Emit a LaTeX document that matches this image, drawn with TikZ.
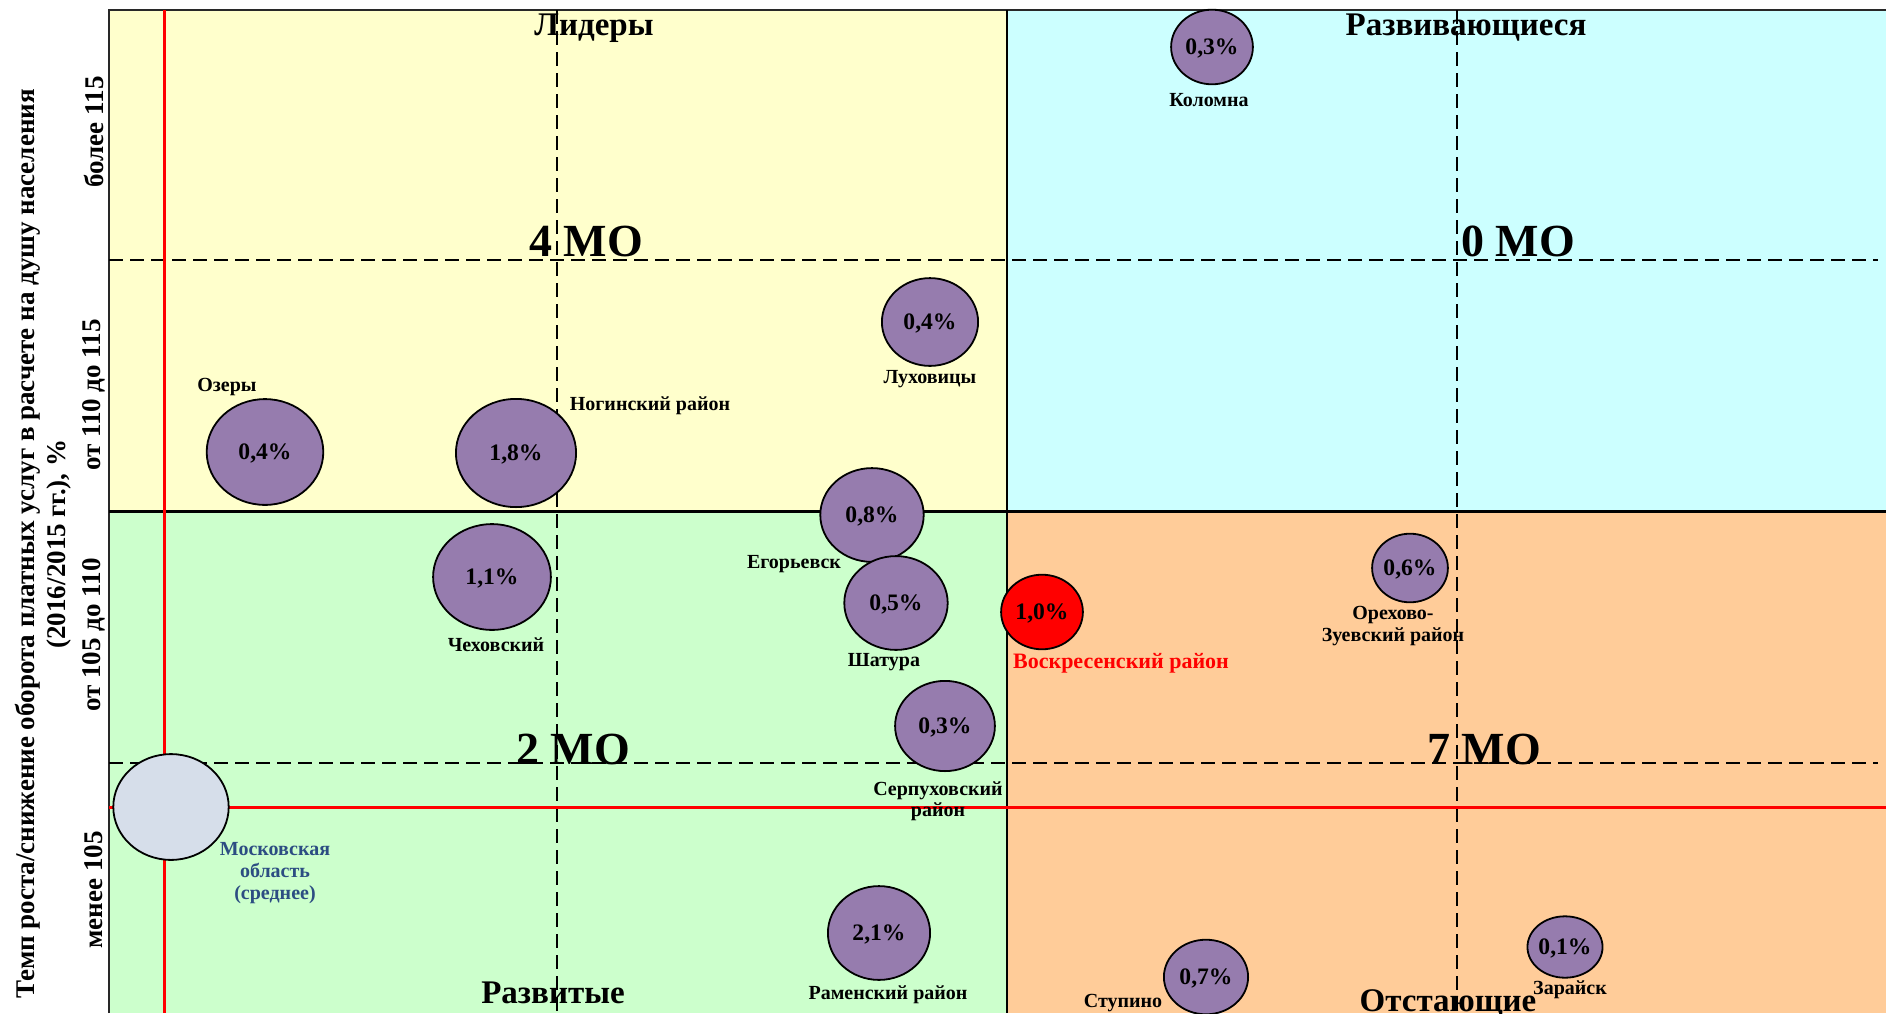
\documentclass[tikz,border=0pt]{standalone}
\usepackage{fontspec}
\setmainfont{Liberation Serif}
\usetikzlibrary{shapes.geometric}
\definecolor{qyellow}{HTML}{FFFFCC}
\definecolor{qcyan}{HTML}{CCFFFF}
\definecolor{qgreen}{HTML}{CCFFCC}
\definecolor{qorange}{HTML}{FFCC99}
\definecolor{bubfill}{RGB}{150,124,174}
\definecolor{mofill}{RGB}{214,222,234}
\definecolor{motext}{RGB}{44,77,130}
\definecolor{framegray}{RGB}{40,40,40}
\begin{document}
\begin{tikzpicture}[x=0.5pt,y=-0.5pt,
  bub/.style={ellipse, draw=black, line width=0.9pt, fill=bubfill, inner sep=0pt, text depth=0pt,
    font=\bfseries\fontsize{11.8}{12}\selectfont},
  place/.style={font=\bfseries\fontsize{10}{10.5}\selectfont, align=center, inner sep=0pt},
  quadname/.style={font=\bfseries\fontsize{16.5}{18}\selectfont, inner sep=0pt, anchor=base},
  mocount/.style={font=\bfseries\fontsize{23}{24}\selectfont, inner sep=0pt, anchor=base},
  ylab/.style={font=\bfseries\fontsize{13.5}{15.5}\selectfont, rotate=90, inner sep=0pt, align=center},
  dashline/.style={dash pattern=on 7pt off 3.5pt, line width=0.9pt},
  redline/.style={red, line width=1.5pt},
]
\useasboundingbox (0,0) rectangle (1886,1013);
% quadrants
\fill[qyellow] (109,10) rectangle (1007,511);
\fill[qcyan] (1007,10) rectangle (1886,511);
\fill[qgreen] (109,511) rectangle (1007,1013);
\fill[qorange] (1007,511) rectangle (1886,1013);
% frame and dividers
\draw[framegray, line width=1pt] (109,1013) -- (109,10) -- (1886,10);
\draw[black, line width=0.6pt] (1007,10) -- (1007,1013);
\draw[black, line width=1.5pt] (109,511) -- (1886,511);
% dashed lines
\draw[dashline] (109,260) -- (1878,260);
\draw[dashline] (109,763) -- (1878,763);
\draw[dashline] (557,10) -- (557,1013);
\draw[dashline] (1457,10) -- (1457,1013);
% red average lines
\draw[redline] (164,10) -- (164,1013);
\draw[redline] (109,807) -- (1886,807);

% quadrant names and counts
\node[quadname] (qn1) at (594,35) {Лидеры};
\node[quadname] (qn2) at (1466,35) {Развивающиеся};
\node[quadname] (qn3) at (553,1003) {Развитые};
\node[quadname] (qn4) at (1448,1011) {Отстающие};
\node[mocount] (mc1) at (586,256) {4 МО};
\node[mocount] (mc2) at (1518,256) {0 МО};
\node[mocount] (mc3) at (573,764) {2 МО};
\node[mocount] (mc4) at (1484,764) {7 МО};

% axis labels
\node[ylab] (ya) at (94,132) {более 115};
\node[ylab] (yb) at (94,395) {от 110 до 115};
\node[ylab] (yc) at (94,635) {от 105 до 110};
\node[ylab] (yd) at (94,890) {менее 105};
\node[ylab] (ytitle) at (43,544) {Темп роста/снижение оборота платных услуг в расчете на душу населения\\(2016/2015 гг.), \%};

% Moscow region average
\node[ellipse, draw=black, line width=0.9pt, fill=mofill, inner sep=0pt,
  minimum width=57.7pt, minimum height=52.9pt] (mo) at (171,807) {};
\node[place, text=motext, font=\bfseries\fontsize{10}{10.8}\selectfont] (mol) at (275,873) {Московская\\область\\(среднее)};

% bubbles
\node[bub, minimum width=40.9pt, minimum height=37.3pt] (b1) at (1212,47) {0,3\%};
\node[bub, minimum width=48.1pt, minimum height=43.9pt] (b2) at (930,322) {0,4\%};
\node[bub, minimum width=58.3pt, minimum height=52.9pt] (b3) at (265,452) {0,4\%};
\node[bub, minimum width=60.1pt, minimum height=54.1pt] (b4) at (516,453) {1,8\%};
\node[bub, minimum width=58.9pt, minimum height=52.9pt] (b5) at (492,577) {1,1\%};
\node[bub, minimum width=51.7pt, minimum height=46.9pt] (b6) at (872,515) {0,8\%};
\node[bub, minimum width=51.7pt, minimum height=46.9pt] (b7) at (896,603) {0,5\%};
\node[bub, minimum width=49.9pt, minimum height=45.1pt] (b8) at (945,726) {0,3\%};
\node[bub, minimum width=51.1pt, minimum height=46.9pt] (b9) at (879,933) {2,1\%};
\node[bub, fill=red, minimum width=40.9pt, minimum height=37.3pt] (b10) at (1042,612) {1,0\%};
\node[bub, minimum width=37.9pt, minimum height=34.3pt] (b11) at (1410,568) {0,6\%};
\node[bub, minimum width=42.1pt, minimum height=37.3pt] (b12) at (1206,977) {0,7\%};
\node[bub, minimum width=34.9pt, minimum height=30.7pt] (b13) at (1565,947) {0,1\%};

% place names
\node[place] (l1) at (1209,100) {Коломна};
\node[place] (l2) at (930,379) {Луховицы};
\node[place] (l3) at (227,387) {Озеры};
\node[place] (l4) at (650,406) {Ногинский район};
\node[place] (l5) at (496,645) {Чеховский};
\node[place] (l6) at (794,564) {Егорьевск};
\node[place] (l7) at (884,662) {Шатура};
\node[place] (l8) at (938,801) {Серпуховский\\район};
\node[place] (l9) at (888,995) {Раменский район};
\node[place, text=red, font=\bfseries\fontsize{11}{12}\selectfont] (l10) at (1121,663) {Воскресенский район};
\node[place, font=\bfseries\fontsize{10}{10.8}\selectfont] (l11) at (1393,626) {Орехово-\\Зуевский район};
\node[place] (l12) at (1123,1003) {Ступино};
\node[place] (l13) at (1570,990) {Зарайск};
\end{tikzpicture}
\end{document}
